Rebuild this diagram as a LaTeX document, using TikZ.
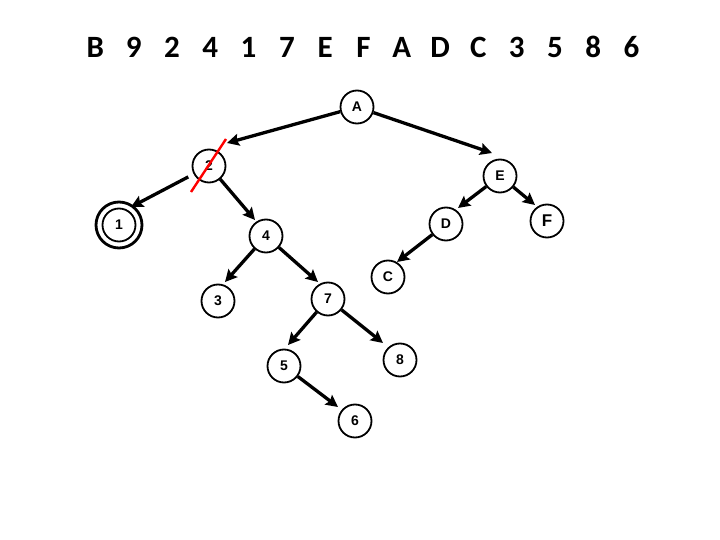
\documentclass[tikz,border=0pt]{standalone}
\usepackage{fontspec}
\setmainfont{Liberation Sans}
\newfontfamily\titlefont{Carlito}
\usetikzlibrary{arrows.meta}
\begin{document}
\begin{tikzpicture}[x=1pt,y=-1pt,
  vtx/.style={circle,draw=black,line width=1.8pt,minimum size=33pt,inner sep=0pt,font=\fontsize{14}{16}\selectfont\bfseries},
  arr/.style={line width=3.3pt,-{Stealth[length=12pt,width=12pt,inset=2pt]}},
  ttl/.style={font=\titlefont\fontsize{31}{36}\selectfont\bfseries,anchor=base west,inner sep=0pt}]
\useasboundingbox (0,0) rectangle (720,540);
\fill[white] (0,0) rectangle (720,540);
\node[ttl] (title) at (76,58) {\makebox[38.3pt]{B}\makebox[38.3pt]{9}\makebox[38.3pt]{2}\makebox[38.3pt]{4}\makebox[38.3pt]{1}\makebox[38.3pt]{7}\makebox[38.3pt]{E}\makebox[38.3pt]{F}\makebox[38.3pt]{A}\makebox[38.3pt]{D}\makebox[38.3pt]{C}\makebox[38.3pt]{3}\makebox[38.3pt]{5}\makebox[38.3pt]{8}\makebox[38.3pt]{6}};
% nodes
\node[vtx] (A) at (357,107) {A};
\node[vtx] (n2) at (209,166) {2};
\node[vtx] (n1) at (119,225) {1};
\draw[line width=2.8pt] (n1.center) circle (23pt);
\node[vtx] (n4) at (266,236) {4};
\node[vtx] (E) at (500,176) {E};
\node[vtx] (D) at (446,224) {D};
\node[vtx,font=\fontsize{17}{19}\selectfont\bfseries] (F) at (547,221) {F};
\node[vtx] (C) at (388,277) {C};
\node[vtx] (n3) at (218,301) {3};
\node[vtx] (n7) at (328,299) {7};
\node[vtx] (n5) at (284,366) {5};
\node[vtx] (n8) at (400,360) {8};
\node[vtx] (n6) at (355,421) {6};
% arrow tips
\coordinate (t2) at (227,143);
\coordinate (t1) at (131,207);
\coordinate (t4) at (255,220);
\coordinate (tE) at (492,153);
\coordinate (tD) at (458,208);
\coordinate (tF) at (535,205);
\coordinate (tC) at (397,262);
\coordinate (t3) at (225,282);
\coordinate (t7) at (318,282);
\coordinate (t5) at (288,345);
\coordinate (t8) at (383,343);
\coordinate (t6) at (338,407);
\draw[arr] (A) -- (t2);
\draw[arr,shorten <=6pt] (n2) -- (t1);
\draw[arr] (n2) -- (t4);
\draw[arr] (A) -- (tE);
\draw[arr] (E) -- (tD);
\draw[arr] (E) -- (tF);
\draw[arr] (D) -- (tC);
\draw[arr] (n4) -- (t3);
\draw[arr] (n4) -- (t7);
\draw[arr] (n7) -- (t5);
\draw[arr] (n7) -- (t8);
\draw[arr] (n5) -- (t6);
% red strike
\coordinate (r1) at (226,139);
\coordinate (r2) at (191,192);
\draw[red,line width=2.4pt] (r1) -- (r2);
\end{tikzpicture}
\end{document}
